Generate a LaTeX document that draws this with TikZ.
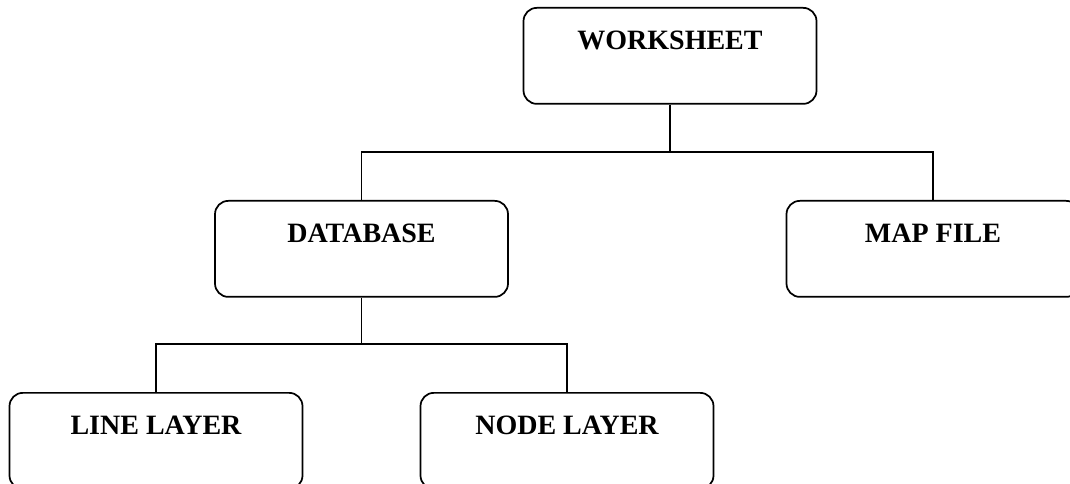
\documentclass[tikz,border=0pt]{standalone}
\usepackage{fontspec}
\setmainfont{Liberation Serif}
\usetikzlibrary{positioning,calc}
\tikzset{
block/.style = {draw, fill=white, rectangle, rounded corners=10pt, line width=1.3pt, inner sep=0pt, minimum width=219.75pt, text height=31.5pt, text depth=40.5pt, align=center, font=\fontsize{21}{25}\selectfont\bfseries},
link/.style = {draw, line width=1.3pt}
}
\begin{document}
\begin{tikzpicture}[x=0.75pt,y=-0.75pt]
   \useasboundingbox (0,0) rectangle (1070,484);
   \node [block, anchor=north] (ws) at (670,7) {WORKSHEET};
   \node [block, anchor=north] (db) at (361.5,200) {DATABASE};
   \node [block, anchor=north] (mf) at (933,200) {MAP FILE};
   \node [block, anchor=north] (ll) at (156,392) {LINE LAYER};
   \node [block, anchor=north] (nl) at (567,392) {NODE LAYER};
   \coordinate (j1) at (670,152);
   \coordinate (j2) at (361.5,344);
   \draw [link] (ws.south) -- (j1) -| (db.north);
   \draw [link] (j1) -| (mf.north);
   \draw [link] (db.south) -- (j2) -| (ll.north);
   \draw [link] (j2) -| (nl.north);
\end{tikzpicture}
\end{document}
